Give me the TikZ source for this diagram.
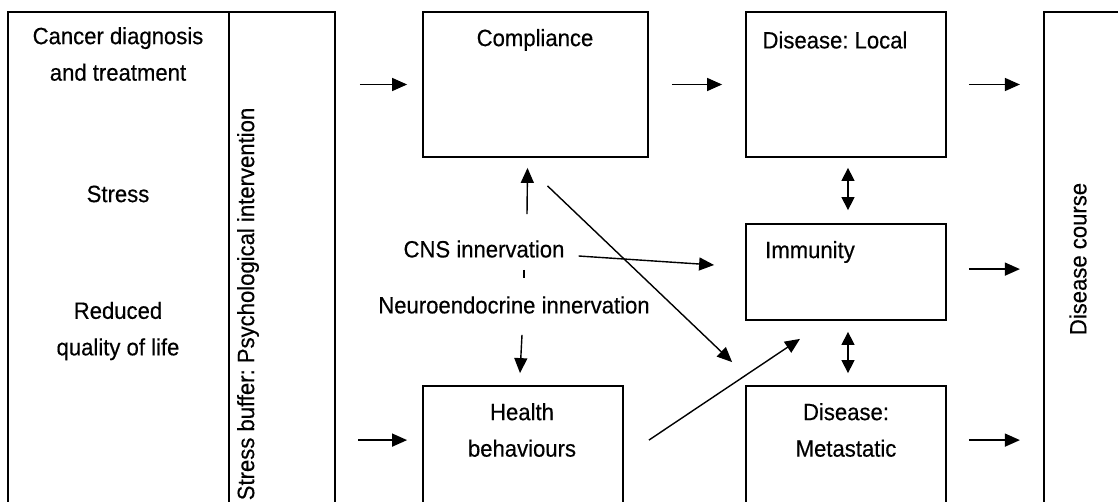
\documentclass[tikz,border=0pt]{standalone}
\usepackage{fontspec}
\setmainfont{Liberation Sans}[FakeStretch=0.94,FakeBold=0.4]
\usepackage{tikz}
\usetikzlibrary{arrows.meta,calc,fit,positioning}
\frenchspacing

\begin{document}
\begin{tikzpicture}[x=1pt,y=-1pt,
  box/.style={draw,line width=1.8pt,inner sep=0pt},
  txt/.style={font=\fontsize{23.5}{36.5}\selectfont,align=center,inner sep=0pt},
  arr/.style={line width=1.4pt,-{Triangle[length=15pt,width=13pt]}},
  darr/.style={line width=1.4pt,{Triangle[length=13pt,width=13pt]}-{Triangle[length=13pt,width=13pt]}}]
  \clip (0,0) rectangle (1118,502);
  % outer columns
  \node[box,fit={(8,12) (229,520)}] (src) {};
  \node[box,fit={(229,12) (335,520)}] (buffer) {};
  \node[box,fit={(1044,12) (1130,520)}] (course) {};
  % middle boxes
  \node[box,fit={(423,12) (648,157)}] (comp) {};
  \node[box,fit={(423,386) (623,520)}] (health) {};
  \node[box,fit={(746,12) (946,157)}] (local) {};
  \node[box,fit={(746,224) (946,320)}] (imm) {};
  \node[box,fit={(746,386) (946,520)}] (meta) {};
  % texts
  \node[txt] (diag) at (118,54) {Cancer diagnosis\\and treatment};
  \node[txt] (stress) at (118,194) {Stress};
  \node[txt] (qol) at (118,331) {Reduced\\quality of life};
  \node[txt,rotate=90] (bufftxt) at (248,304) {Stress buffer: Psychological intervention};
  \node[txt,rotate=90] (coursetxt) at (1078,259) {Disease course};
  \node[txt] (comptxt) at (535,40) {Compliance};
  \node[txt] (localtxt) at (835,40) {Disease: Local};
  \node[txt] (immtxt) at (810,252) {Immunity};
  \node[txt] (metatxt) at (846,430) {Disease:\\Metastatic};
  \node[txt] (healthtxt) at (522,430) {Health\\behaviours};
  \node[txt] (cns) at (484,249) {CNS innervation};
  \node[txt] (neuro) at (514,305) {Neuroendocrine innervation};
  % connectors
  \draw[arr] ($(buffer.east)!(comp.west)!(buffer.north east)+(24,0)$) -- ($(comp.west)+(-15,0)$);
  \draw[arr] ($(comp.east)+(23,0)$) -- ($(local.west)+(-23,0)$);
  \draw[arr] ($(local.east)+(22,0)$) -- ($(local.east)+(73,0)$);
  \draw[arr] ($(imm.north east)+(22,46)$) -- ($(imm.north east)+(73,46)$);
  \draw[arr] ($(meta.north east)+(22,55)$) -- ($(meta.north east)+(73,55)$);
  \draw[arr] ($(health.north west)+(-64,55)$) -- ($(health.north west)+(-15,55)$);
  \draw[darr] ($(local.south)+(2,10)$) -- ($(imm.north)+(2,-13)$);
  \draw[darr] ($(imm.south)+(2,11)$) -- ($(meta.north)+(2,-12)$);
  \draw[arr] ($(cns.north)+(43,-26)$) -- ($(comp.south)+(-8,10)$);
  \draw[arr] ($(comp.south)+(12,28)$) -- ($(meta.north west)+(-13,-23)$);
  \draw[arr] ($(cns.east)+(14,7)$) -- ($(imm.west)+(-31,-7)$);
  \draw[arr] ($(neuro.south)+(8,21)$) -- ($(health.north)+(-3,-12)$);
  \draw[arr] ($(health.north east)+(25,55)$) -- ($(imm.south)+(-46,18)$);
  \draw[line width=1.4pt] ($(cns.south)+(40,12)$) -- ($(neuro.north)+(10,-18)$);
\end{tikzpicture}
\end{document}
